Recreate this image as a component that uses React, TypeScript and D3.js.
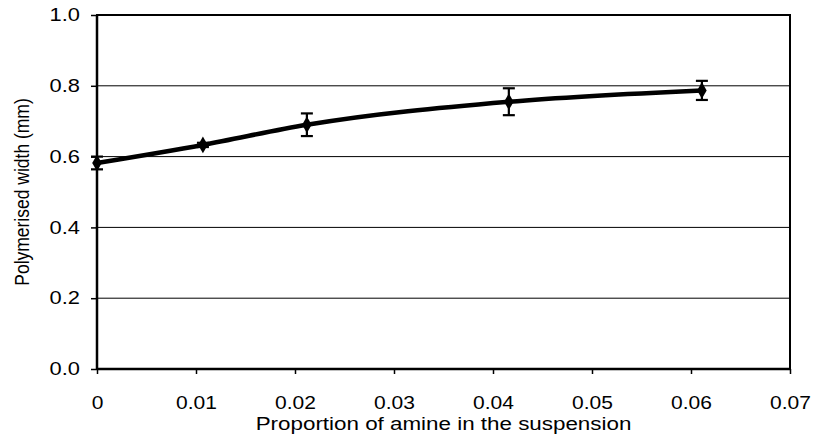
import { useEffect, useRef } from "react";
import * as d3 from "d3";

// proportion of amine (x) vs polymerised width in mm (y)
const amine = [0, 0.0107, 0.0212, 0.0416, 0.0611];
const polyWidth = [0.582, 0.633, 0.69, 0.755, 0.787];
const errBars = [0.018, 0.006, 0.032, 0.038, 0.027];

const xTicks = [0, 0.01, 0.02, 0.03, 0.04, 0.05, 0.06, 0.07];
const yTicks = [0, 0.2, 0.4, 0.6, 0.8, 1.0];

const W = 813;
const H = 448;
const margin = { top: 15, right: 23, bottom: 79, left: 97 };
const font = "'Liberation Sans', Arial, sans-serif";
// the original is stretched sideways, so the text is widened a bit
const xStretch = 1.2;
const yStretch = 1.25;

function XAxis({ scale, y }) {
  const ref = useRef(null);
  useEffect(() => {
    const g = d3.select(ref.current);
    g.call(
      d3
        .axisBottom(scale)
        .tickValues(xTicks)
        .tickSize(5)
        .tickSizeOuter(0)
        .tickPadding(23)
        .tickFormat((d) => (d === 0 ? "0" : d3.format(".2f")(d)))
    );
    g.select(".domain").remove();
    g.selectAll("line").attr("stroke", "#000").attr("stroke-width", 1.5);
    g.selectAll("text")
      .attr("fill", "#000")
      .attr("transform", `scale(${xStretch},1)`)
      .style("font-family", font)
      .style("font-size", "17.5px");
  }, [scale]);
  return <g ref={ref} transform={`translate(0,${y})`} />;
}

function YAxis({ scale, x }) {
  const ref = useRef(null);
  useEffect(() => {
    const g = d3.select(ref.current);
    g.call(
      d3
        .axisLeft(scale)
        .tickValues(yTicks)
        .tickSize(6)
        .tickSizeOuter(0)
        .tickFormat(d3.format(".1f"))
    );
    g.select(".domain").remove();
    g.selectAll("line").attr("stroke", "#000").attr("stroke-width", 1.5);
    g.selectAll("text")
      .attr("fill", "#000")
      .attr("x", -17 / yStretch)
      .attr("transform", `scale(${yStretch},1)`)
      .style("font-family", font)
      .style("font-size", "17.5px");
  }, [scale]);
  return <g ref={ref} transform={`translate(${x},0)`} />;
}

export default function App() {
  const x0 = margin.left;
  const x1 = W - margin.right;
  const y0 = H - margin.bottom;
  const y1 = margin.top;

  const sx = d3.scaleLinear().domain([0, 0.07]).range([x0, x1]);
  const sy = d3.scaleLinear().domain([0, 1]).range([y0, y1]);

  const pts = amine.map((a, i) => [a, polyWidth[i]]);
  const line = d3
    .line()
    .x((d) => sx(d[0]))
    .y((d) => sy(d[1]))
    .curve(d3.curveMonotoneX);

  const diamond = d3.symbol().type(d3.symbolDiamond).size(80)();

  return (
    <svg
      width={W}
      height={H}
      style={{ position: "absolute", left: 0, top: 0, background: "#fff" }}
    >
      <rect x={0} y={0} width={W} height={H} fill="#fff" />
      {/* gridlines */}
      {yTicks
        .filter((t) => t > 0 && t < 1)
        .map((t) => (
          <line
            key={`g-${t}`}
            x1={x0}
            x2={x1}
            y1={sy(t)}
            y2={sy(t)}
            stroke="#000"
            strokeWidth={1}
          />
        ))}
      {/* frame */}
      <rect
        x={x0}
        y={y1}
        width={x1 - x0}
        height={y0 - y1}
        fill="none"
        stroke="#000"
        strokeWidth={2}
      />
      <line x1={x0} x2={x0} y1={y1} y2={y0} stroke="#000" strokeWidth={2.5} />
      <line x1={x0} x2={x1} y1={y0} y2={y0} stroke="#000" strokeWidth={2.5} />

      <XAxis scale={sx} y={y0} />
      <YAxis scale={sy} x={x0} />

      {/* error bars */}
      {pts.map((p, i) => {
        const cx = sx(p[0]);
        const top = sy(p[1] + errBars[i]);
        const bot = sy(p[1] - errBars[i]);
        return (
          <g key={`e-${i}`} stroke="#000" strokeWidth={2.2}>
            <line x1={cx} x2={cx} y1={top} y2={bot} />
            <line x1={cx - 6} x2={cx + 6} y1={top} y2={top} />
            <line x1={cx - 6} x2={cx + 6} y1={bot} y2={bot} />
          </g>
        );
      })}

      <path
        d={line(pts)}
        fill="none"
        stroke="#000"
        strokeWidth={4.5}
        strokeLinecap="round"
      />

      {pts.map((p, i) => (
        <path
          key={`m-${i}`}
          d={diamond}
          transform={`translate(${sx(p[0])},${sy(p[1])})`}
          fill="#000"
        />
      ))}

      <text
        transform={`translate(${(x0 + x1) / 2},430) scale(1.28,1)`}
        textAnchor="middle"
        fontFamily={font}
        fontSize={17.5}
        fill="#000"
      >
        Proportion of amine in the suspension
      </text>
      <text
        transform={`translate(29,${(y0 + y1) / 2}) rotate(-90) scale(1,1.2)`}
        textAnchor="middle"
        fontFamily={font}
        fontSize={17.5}
        fill="#000"
      >
        Polymerised width (mm)
      </text>
    </svg>
  );
}
